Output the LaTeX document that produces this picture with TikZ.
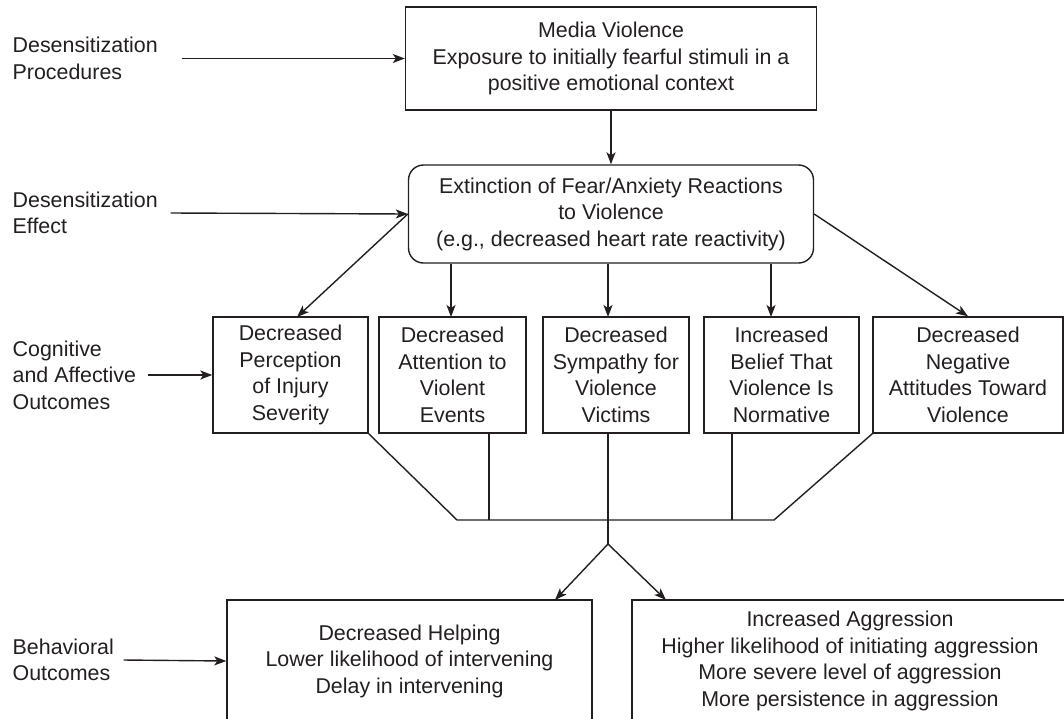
\documentclass[tikz,border=0pt]{standalone}
\usepackage{fontspec}
\setmainfont{Liberation Sans}
\usetikzlibrary{positioning, arrows.meta}
\definecolor{inkcolor}{HTML}{231F20}
\newcommand{\diagfont}{\fontsize{21.4}{26.5}\selectfont}

\begin{document}
\begin{tikzpicture}[x=1pt, y=-1pt, color=inkcolor, line width=1.4pt,
    >={Stealth[length=12pt, width=9pt, inset=3pt]},
    lbl/.style={anchor=west, align=left, inner sep=0pt, font=\diagfont},
    box/.style={draw, align=center, inner sep=2pt, font=\diagfont},
    rowbox/.style={box, minimum height=116}]
        \useasboundingbox (0,0) rectangle (1064,718);
        \clip (0,0) rectangle (1064,718);

        % stages on the left
        \node[lbl] (proc) at (12,58.5) {Desensitization\\Procedures};
        \node[lbl] (effect) at (12,213) {Desensitization\\Effect};
        \node[lbl] (cogn) at (12,375) {Cognitive\\and Affective\\Outcomes};
        \node[lbl] (behav) at (12,660) {Behavioral\\Outcomes};

        \node[box, minimum width=411, minimum height=103] (media) at (611,58.5)
            {Media Violence\\Exposure to initially fearful stimuli in a\\positive emotional context};
        \node[box, rounded corners=15pt, minimum width=405, minimum height=98] (ext) at (611,214)
            {Extinction of Fear/Anxiety Reactions\\to Violence\\(e.g., decreased heart rate reactivity)};

        \node[rowbox, minimum width=155] (percep) at (290.5,375) {Decreased\\Perception\\of Injury\\Severity};
        \node[rowbox, minimum width=147] (attent) at (452.5,375) {Decreased\\Attention to\\Violent\\Events};
        \node[rowbox, minimum width=146] (sympat) at (616,375) {Decreased\\Sympathy for\\Violence\\Victims};
        \node[rowbox, minimum width=155] (belief) at (781.5,375) {Increased\\Belief That\\Violence Is\\Normative};
        \node[rowbox, minimum width=190] (attit) at (968,375) {Decreased\\Negative\\Attitudes Toward\\Violence};

        \node[box, minimum width=365, minimum height=122] (helping) at (409.5,661)
            {Decreased Helping\\Lower likelihood of intervening\\Delay in intervening};
        \node[box, minimum width=436, minimum height=122] (aggress) at (850,661)
            {Increased Aggression\\Higher likelihood of initiating aggression\\More severe level of aggression\\More persistence in aggression};

        \coordinate (t1) at (297,317);
        \coordinate (t2) at (451,317);
        \coordinate (t3) at (608,317);
        \coordinate (t4) at (771,317);
        \coordinate (j2) at (489,520);
        \coordinate (j4) at (732,520);
        \coordinate (jl) at (457,520);
        \coordinate (jr) at (774,520);
        \coordinate (fork) at (608,544);
        \coordinate (hl) at (555,600);
        \coordinate (hr) at (666,600);

        \draw[->] ([xshift=23pt]proc.east) -- (media.west);
        \draw[->] ([xshift=12pt]effect.east) -- (ext.west);
        \draw[->] ([xshift=11pt]cogn.east) -- (percep.west);
        \draw[->] ([xshift=9pt]behav.east) -- (helping.west);

        \draw[->] (media.south) -- (ext.north);
        \draw[->] (ext.west) -- (t1);
        \draw[->] (ext.south -| t2) -- (t2);
        \draw[->] (ext.south -| t3) -- (t3);
        \draw[->] (ext.south -| t4) -- (t4);
        \draw[->] (ext.east) -- (attit.north);

        % outcomes join and split
        \draw (percep.south east) -- (jl) -- (jr) -- (attit.south west);
        \draw (j2 |- attent.south) -- (j2);
        \draw (j4 |- belief.south) -- (j4);
        \draw (fork |- sympat.south) -- (fork);
        \draw[->] (fork) -- (hl);
        \draw[->] (fork) -- (hr);
      \end{tikzpicture}
\end{document}
